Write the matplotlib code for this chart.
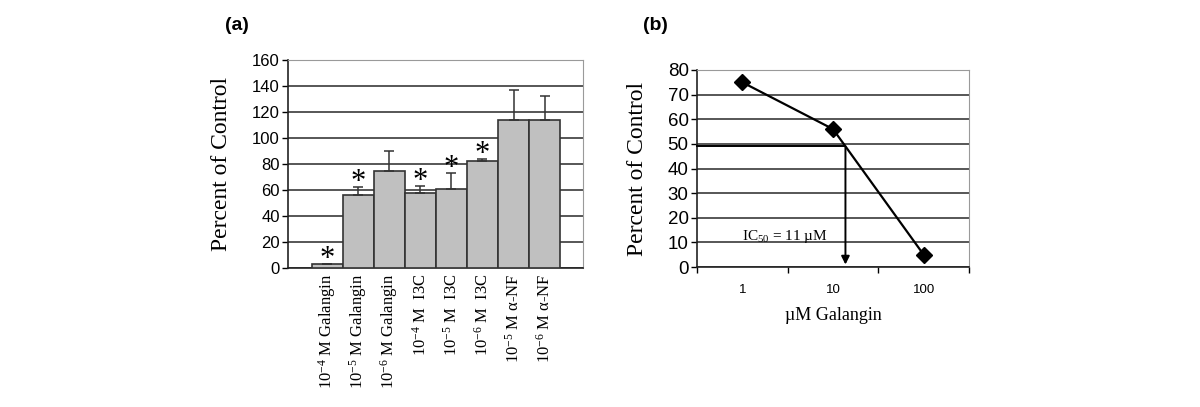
import numpy as np
import matplotlib
matplotlib.use("Agg")
import matplotlib.pyplot as plt

plt.rcParams['mathtext.fontset'] = 'custom'
plt.rcParams['mathtext.rm'] = 'Liberation Serif'
plt.rcParams['mathtext.it'] = 'Liberation Serif:italic'
plt.rcParams['mathtext.bf'] = 'Liberation Serif:bold'

# ---------------- data ----------------
categories = [r'10$^{\mathregular{-4}}$ M Galangin',
              r'10$^{\mathregular{-5}}$ M Galangin',
              r'10$^{\mathregular{-6}}$ M Galangin',
              r'10$^{\mathregular{-4}}$ M  I3C',
              r'10$^{\mathregular{-5}}$ M  I3C',
              r'10$^{\mathregular{-6}}$ M  I3C',
              r'10$^{\mathregular{-5}}$ M α-NF',
              r'10$^{\mathregular{-6}}$ M α-NF']
values = [3, 56, 75, 58, 61, 82, 114, 114]
errors = [0, 6, 15, 5, 12, 2, 23, 18]
significant = [True, True, False, True, True, True, False, False]

conc = [1, 10, 100]
pct = [75, 56, 5]
ic50_level = 49
ic50_label = r'IC$_{\mathregular{50}}$ = 11 µM'

SERIF = 'Liberation Serif'
SANS = 'Liberation Sans'
GRID = '#3a3a3a'

fig = plt.figure(figsize=(12, 4.07), dpi=100)

# ---------------- panel (a) ----------------
axa = fig.add_axes([288/1200, 1-268/407, 295/1200, 208/407])
x = np.arange(len(values))
axa.bar(x, values, width=1.0, color='#c0c0c0', edgecolor='#333333', linewidth=1.2, zorder=3)
axa.errorbar(x, values, yerr=[np.zeros(len(errors)), errors], fmt='none',
             ecolor='#333333', elinewidth=1.1, capsize=3.5, capthick=1.1, zorder=4)
for xi, v, e, s in zip(x, values, errors, significant):
    if s:
        axa.annotate('*', xy=(xi, v + e), xytext=(0, -7), textcoords='offset points',
                     ha='center', va='bottom', fontsize=22, family=SERIF, zorder=5)
axa.set_xlim(-1.27, 8.24)
axa.set_ylim(0, 160)
axa.set_yticks(np.arange(0, 161, 20))
axa.yaxis.grid(True, color=GRID, linewidth=1.2, zorder=0)
axa.set_axisbelow(True)
axa.set_xticks(x)
axa.set_xticklabels(categories, rotation=90, family=SERIF, fontsize=12)
axa.tick_params(axis='x', length=0, pad=4)
axa.tick_params(axis='y', labelsize=12, length=4, width=1, direction='out', pad=2)
for lab in axa.get_yticklabels():
    lab.set_family(SANS)
axa.set_ylabel('Percent of Control', family=SERIF, fontsize=17)
axa.yaxis.set_label_coords(-0.19, 0.5)
for sp in ['top', 'right']:
    axa.spines[sp].set_color('#9a9a9a')
    axa.spines[sp].set_linewidth(0.8)
axa.spines['left'].set_color('#222222')
axa.spines['bottom'].set_color('#222222')
axa.spines['left'].set_linewidth(1.2)
axa.spines['bottom'].set_linewidth(1.2)

# ---------------- panel (b) ----------------
axb = fig.add_axes([697/1200, 1-267/407, 272/1200, 197/407])
axb.set_xscale('log')
axb.set_xlim(10**-0.5, 10**2.5)
axb.set_ylim(0, 80)
axb.set_yticks(np.arange(0, 81, 10))
axb.yaxis.grid(True, color=GRID, linewidth=1.2, zorder=0)
axb.set_axisbelow(True)
axb.plot(conc, pct, color='black', linewidth=1.6, marker='D', markersize=8,
         markerfacecolor='black', zorder=4)

# IC50 construction from the data (log-linear interpolation at the level)
lc = np.log10(conc)
x50 = 10 ** np.interp(-ic50_level, -np.array(pct, float), lc)
axb.plot([10**-0.5, x50], [ic50_level, ic50_level], color='black', linewidth=1.4,
         zorder=3, clip_on=False)
axb.annotate('', xy=(x50, 1), xytext=(x50, ic50_level),
             arrowprops=dict(arrowstyle='-|>', color='black', lw=1.4,
                             mutation_scale=12, shrinkA=0, shrinkB=0), zorder=3)
axb.text(1.0, 12.5, ic50_label, family=SERIF, fontsize=11, ha='left', va='center',
         zorder=5)

axb.xaxis.set_major_locator(matplotlib.ticker.FixedLocator(conc))
axb.xaxis.set_major_formatter(matplotlib.ticker.FixedFormatter([str(c) for c in conc]))
axb.xaxis.set_minor_locator(matplotlib.ticker.FixedLocator([10**-0.5, 10**0.5, 10**1.5, 10**2.5]))
axb.xaxis.set_minor_formatter(matplotlib.ticker.NullFormatter())
axb.tick_params(axis='x', which='major', length=0, labelsize=9.5, pad=12)
axb.tick_params(axis='x', which='minor', length=4, width=1, direction='out')
axb.tick_params(axis='y', labelsize=13.5, length=4, width=1, direction='out', pad=2)
for lab in axb.get_xticklabels() + axb.get_yticklabels():
    lab.set_family(SANS)
axb.set_xlabel('µM Galangin', family=SERIF, fontsize=13, labelpad=8)
axb.set_ylabel('Percent of Control', family=SERIF, fontsize=17)
axb.yaxis.set_label_coords(-0.18, 0.5)
for sp in ['top', 'right']:
    axb.spines[sp].set_color('#9a9a9a')
    axb.spines[sp].set_linewidth(0.8)
axb.spines['left'].set_color('#222222')
axb.spines['bottom'].set_color('#222222')
axb.spines['left'].set_linewidth(1.2)
axb.spines['bottom'].set_linewidth(1.2)

# panel labels
fig.text(237/1200, 1-25/407, '(a)', family=SANS, fontsize=14, fontweight='bold',
         ha='center', va='center')
fig.text(655/1200, 1-25/407, '(b)', family=SANS, fontsize=14, fontweight='bold',
         ha='center', va='center')

fig.savefig('out.png', dpi=100)
